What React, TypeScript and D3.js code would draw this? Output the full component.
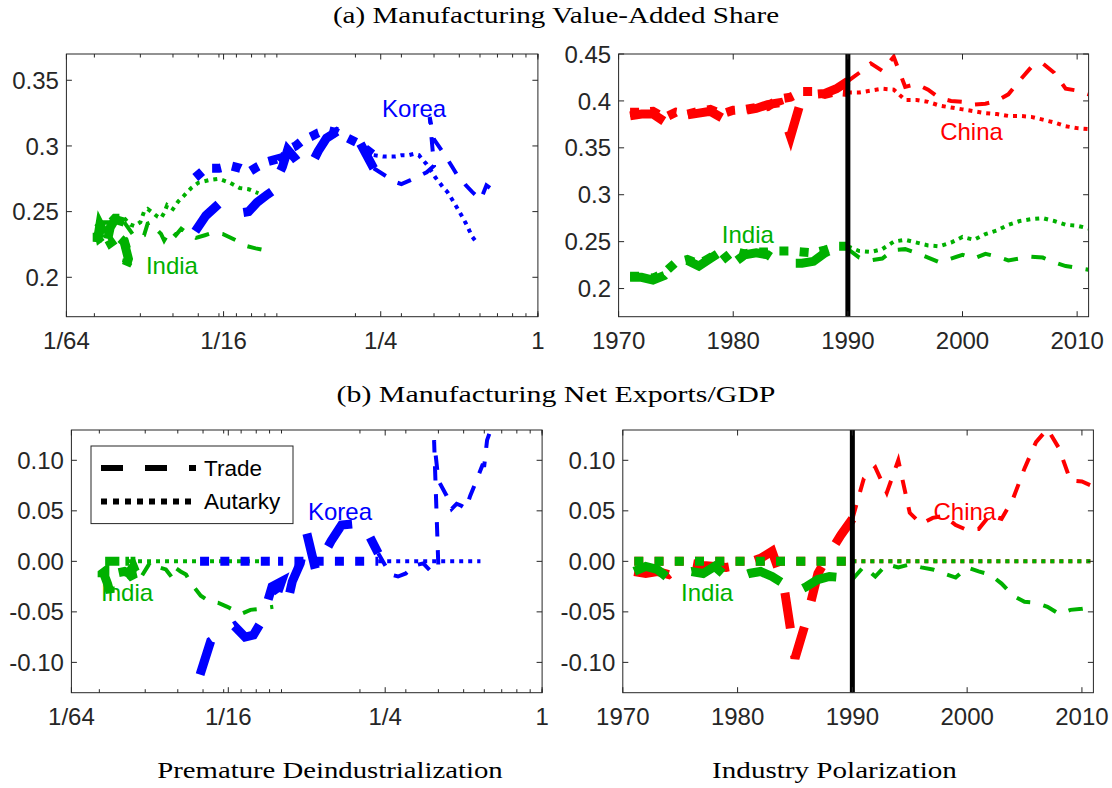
import React from "react";
import * as d3 from "d3";

// ---- data ----
const years = [
  1971, 1972, 1973, 1974, 1975, 1976, 1977, 1978, 1979, 1980,
  1981, 1982, 1983, 1984, 1985, 1986, 1987, 1988, 1989, 1990,
  1991, 1992, 1993, 1994, 1995, 1996, 1997, 1998, 1999, 2000,
  2001, 2002, 2003, 2004, 2005, 2006, 2007, 2008, 2009, 2010, 2011,
];
const cutYear = 1990;

// China
const chinaShareTrade = [
  0.384, 0.386, 0.386, 0.378, 0.387, 0.385, 0.387, 0.389, 0.382, 0.389,
  0.390, 0.392, 0.396, 0.398, 0.362, 0.404, 0.407, 0.408, 0.413, 0.421,
  0.430, 0.440, 0.432, 0.447, 0.415, 0.418, 0.412, 0.403, 0.400, 0.399,
  0.396, 0.397, 0.400, 0.407, 0.422, 0.436, 0.440, 0.430, 0.413, 0.411, 0.407,
];
const chinaShareAutarky = [
  0.388, 0.388, 0.389, 0.382, 0.388, 0.386, 0.389, 0.391, 0.386, 0.390,
  0.391, 0.393, 0.394, 0.402, 0.404, 0.410, 0.410, 0.407, 0.410, 0.409,
  0.409, 0.411, 0.413, 0.412, 0.401, 0.401, 0.399, 0.395, 0.393, 0.391,
  0.389, 0.387, 0.386, 0.384, 0.384, 0.383, 0.380, 0.377, 0.373, 0.371, 0.370,
];
const chinaNxTrade = [
  -0.010, -0.012, -0.010, -0.013, -0.004, -0.002, -0.004, -0.005, -0.006, -0.004,
  -0.001, 0.003, 0.010, -0.022, -0.096, -0.058, -0.012, 0.008, 0.026, 0.042,
  0.082, 0.093, 0.068, 0.100, 0.048, 0.037, 0.043, 0.045, 0.036, 0.031,
  0.032, 0.046, 0.042, 0.062, 0.092, 0.118, 0.131, 0.112, 0.080, 0.079, 0.074,
];

// India
const indiaShareTrade = [
  0.212, 0.212, 0.209, 0.214, 0.227, 0.230, 0.224, 0.232, 0.240, 0.227,
  0.236, 0.238, 0.236, 0.228, 0.227, 0.227, 0.229, 0.238, 0.244, 0.242,
  0.233, 0.230, 0.232, 0.241, 0.242, 0.238, 0.233, 0.228, 0.232, 0.236,
  0.232, 0.237, 0.234, 0.230, 0.232, 0.234, 0.233, 0.228, 0.224, 0.222, 0.220,
];
const indiaShareAutarky = [
  0.213, 0.213, 0.211, 0.217, 0.228, 0.231, 0.226, 0.233, 0.230, 0.240,
  0.237, 0.239, 0.239, 0.240, 0.240, 0.239, 0.238, 0.241, 0.245, 0.245,
  0.240, 0.239, 0.242, 0.250, 0.252, 0.249, 0.246, 0.245, 0.249, 0.255,
  0.252, 0.258, 0.262, 0.268, 0.272, 0.274, 0.275, 0.272, 0.268, 0.267, 0.264,
];
const indiaNxTrade = [
  -0.010, -0.005, -0.008, -0.017, -0.012, -0.010, -0.012, -0.005, -0.015, -0.016,
  -0.012, -0.010, -0.015, -0.022, -0.031, -0.025, -0.018, -0.015, -0.016, -0.018,
  -0.005, -0.015, -0.003, -0.006, -0.003, -0.006, -0.008, -0.012, -0.016, -0.006,
  -0.010, -0.013, -0.022, -0.034, -0.040, -0.041, -0.045, -0.052, -0.048, -0.047, -0.045,
];
const indiaIncomeTrade = [
  0.0275, 0.027, 0.0265, 0.027, 0.026, 0.025, 0.023, 0.022, 0.021, 0.0205,
  0.0205, 0.021, 0.021, 0.0215, 0.022, 0.022, 0.0225, 0.023, 0.024, 0.026,
  0.028, 0.029, 0.031, 0.032, 0.033, 0.034, 0.036, 0.037, 0.038, 0.039,
  0.041, 0.043, 0.045, 0.049, 0.053, 0.057, 0.062, 0.070, 0.076, 0.083, 0.093,
];
const indiaIncomeAutarky = [
  0.0275, 0.027, 0.0265, 0.027, 0.026, 0.025, 0.023, 0.022, 0.021, 0.0205,
  0.0205, 0.021, 0.021, 0.0215, 0.022, 0.022, 0.0225, 0.023, 0.024, 0.026,
  0.0275, 0.0285, 0.030, 0.031, 0.032, 0.0335, 0.035, 0.036, 0.037, 0.038,
  0.040, 0.042, 0.044, 0.047, 0.050, 0.055, 0.060, 0.066, 0.072, 0.078, 0.085,
];

// Korea
const koreaShareTrade = [
  0.235, 0.247, 0.256, 0.252, 0.249, 0.250, 0.257, 0.263, 0.268, 0.270,
  0.284, 0.297, 0.290, 0.283, 0.285, 0.296, 0.306, 0.311, 0.305, 0.283,
  0.277, 0.273, 0.271, 0.274, 0.277, 0.280, 0.285, 0.322, 0.305, 0.296,
  0.290, 0.284, 0.278, 0.275, 0.270, 0.265, 0.261, 0.259, 0.263, 0.270, 0.268,
];
const koreaShareAutarky = [
  0.276, 0.283, 0.283, 0.285, 0.283, 0.280, 0.284, 0.288, 0.290, 0.287,
  0.290, 0.297, 0.300, 0.304, 0.307, 0.310, 0.312, 0.310, 0.302, 0.293,
  0.292, 0.292, 0.292, 0.293, 0.293, 0.294, 0.293, 0.290, 0.286, 0.281,
  0.276, 0.272, 0.268, 0.265, 0.259, 0.253, 0.247, 0.241, 0.236, 0.231, 0.227,
];
const koreaNxTrade = [
  -0.112, -0.079, -0.070, -0.064, -0.075, -0.073, -0.059, -0.025, -0.020, -0.030,
  -0.043, -0.020, -0.002, 0.028, -0.008, 0.005, 0.020, 0.036, 0.038, 0.008,
  -0.013, -0.015, -0.012, -0.004, -0.002, -0.010, -0.006, 0.120, 0.080, 0.065,
  0.052, 0.057, 0.055, 0.052, 0.065, 0.080, 0.095, 0.095, 0.120, 0.130, 0.135,
];
const koreaIncomeTrade = [
  0.0487, 0.0535, 0.060, 0.066, 0.0725, 0.078, 0.084, 0.092, 0.100, 0.097,
  0.105, 0.110, 0.118, 0.125, 0.135, 0.144, 0.155, 0.170, 0.205, 0.235,
  0.262, 0.28, 0.30, 0.325, 0.35, 0.375, 0.40, 0.385, 0.40, 0.43,
  0.45, 0.47, 0.49, 0.51, 0.53, 0.56, 0.59, 0.60, 0.615, 0.635, 0.655,
];
const koreaIncomeAutarky = [
  0.0487, 0.0535, 0.060, 0.066, 0.0725, 0.078, 0.084, 0.092, 0.100, 0.097,
  0.105, 0.110, 0.118, 0.125, 0.135, 0.144, 0.155, 0.170, 0.205, 0.235,
  0.255, 0.27, 0.285, 0.30, 0.32, 0.335, 0.35, 0.36, 0.375, 0.39,
  0.405, 0.42, 0.435, 0.45, 0.47, 0.49, 0.51, 0.53, 0.545, 0.56, 0.58,
];

// autarky has no net exports
const autarkyNx = [
  0, 0, 0, 0, 0, 0, 0, 0, 0, 0, 0, 0, 0, 0, 0, 0, 0, 0, 0, 0, 0,
  0, 0, 0, 0, 0, 0, 0, 0, 0, 0, 0, 0, 0, 0, 0, 0, 0, 0, 0, 0,
];

// tick labels
const logTicks = [1 / 64, 1 / 16, 1 / 4, 1];
const logTickLabels = ["1/64", "1/16", "1/4", "1"];
const yearTicks = [1970, 1980, 1990, 2000, 2010];
const shareTicksLeft = [0.2, 0.25, 0.3, 0.35];
const shareTicksRight = [0.2, 0.25, 0.3, 0.35, 0.4, 0.45];
const shareTickLabels = (v: number) => String(+v.toFixed(2));
const nxTicks = [-0.1, -0.05, 0, 0.05, 0.1];
const nxTickLabels = ["-0.10", "-0.05", "0.00", "0.05", "0.10"];

const colors: Record<string, string> = {
  China: "#ff0000",
  India: "#00b000",
  Korea: "#0000ff",
};

// ---- layout ----
const W = 1112;
const H = 788;
const AX = "#262626";
const SANS = "'Liberation Sans', Arial, Helvetica, sans-serif";
const SERIF = "'Liberation Serif', 'Times New Roman', serif";

type Panel = {
  id: string;
  left: number;
  right: number;
  top: number;
  bottom: number;
  log: boolean;
  yDomain: [number, number];
  yTicks: number[];
  yLabel: (v: number, i: number) => string;
};

const panels: Panel[] = [
  { id: "aL", left: 66.4, right: 537.9, top: 54, bottom: 316.7, log: true, yDomain: [0.17, 0.37], yTicks: shareTicksLeft, yLabel: (v) => shareTickLabels(v) },
  { id: "aR", left: 618.6, right: 1088.6, top: 54, bottom: 316.7, log: false, yDomain: [0.17, 0.45], yTicks: shareTicksRight, yLabel: (v) => shareTickLabels(v) },
  { id: "bL", left: 71.4, right: 542.1, top: 430, bottom: 692.7, log: true, yDomain: [-0.13, 0.13], yTicks: nxTicks, yLabel: (_, i) => nxTickLabels[i] },
  { id: "bR", left: 622.8, right: 1093.4, top: 430, bottom: 692.7, log: false, yDomain: [-0.13, 0.13], yTicks: nxTicks, yLabel: (_, i) => nxTickLabels[i] },
];

type Series = { panel: string; country: string; style: "dash" | "dot"; x: number[]; y: number[] };

const series: Series[] = [
  { panel: "aL", country: "India", style: "dash", x: indiaIncomeTrade, y: indiaShareTrade },
  { panel: "aL", country: "India", style: "dot", x: indiaIncomeAutarky, y: indiaShareAutarky },
  { panel: "aL", country: "Korea", style: "dash", x: koreaIncomeTrade, y: koreaShareTrade },
  { panel: "aL", country: "Korea", style: "dot", x: koreaIncomeAutarky, y: koreaShareAutarky },
  { panel: "aR", country: "China", style: "dash", x: years, y: chinaShareTrade },
  { panel: "aR", country: "China", style: "dot", x: years, y: chinaShareAutarky },
  { panel: "aR", country: "India", style: "dash", x: years, y: indiaShareTrade },
  { panel: "aR", country: "India", style: "dot", x: years, y: indiaShareAutarky },
  { panel: "bL", country: "India", style: "dash", x: indiaIncomeTrade, y: indiaNxTrade },
  { panel: "bL", country: "India", style: "dot", x: indiaIncomeAutarky, y: autarkyNx },
  { panel: "bL", country: "Korea", style: "dash", x: koreaIncomeTrade, y: koreaNxTrade },
  { panel: "bL", country: "Korea", style: "dot", x: koreaIncomeAutarky, y: autarkyNx },
  { panel: "bR", country: "China", style: "dash", x: years, y: chinaNxTrade },
  { panel: "bR", country: "China", style: "dot", x: years, y: autarkyNx },
  { panel: "bR", country: "India", style: "dash", x: years, y: indiaNxTrade },
  { panel: "bR", country: "India", style: "dot", x: years, y: autarkyNx },
];

// country labels, in data coordinates of their panel (text baseline)
const labels = [
  { panel: "aL", text: "Korea", x: 0.253, y: 0.322 },
  { panel: "aL", text: "India", x: 0.0315, y: 0.2028 },
  { panel: "aR", text: "China", x: 1998.05, y: 0.3587 },
  { panel: "aR", text: "India", x: 1979.0, y: 0.249 },
  { panel: "bL", text: "India", x: 0.0203, y: -0.0393 },
  { panel: "bL", text: "Korea", x: 0.1264, y: 0.0413 },
  { panel: "bR", text: "China", x: 1997.07, y: 0.0413 },
  { panel: "bR", text: "India", x: 1975.08, y: -0.0393 },
];

const THICK = 9;
const THIN = 4;
const dashFor = (style: string, w: number) =>
  style === "dot"
    ? `${w},${w * 1.25}`
    : w > 5
    ? `${w * 4},${w * 3}`
    : `${w * 3.6},${w * 3.4}`;

function makeScales(p: Panel) {
  const x = p.log
    ? d3.scaleLog().base(2).domain([1 / 64, 1]).range([p.left, p.right])
    : d3.scaleLinear().domain([1970, 2011]).range([p.left, p.right]);
  const y = d3.scaleLinear().domain(p.yDomain).range([p.bottom, p.top]);
  return { x, y };
}

const preIdx = years.map((_, i) => i).filter((i) => years[i] <= cutYear);
const postIdx = years.map((_, i) => i).filter((i) => years[i] >= cutYear);

function PanelView({ p }: { p: Panel }) {
  const { x, y } = makeScales(p);
  const majorLen = 5.5;
  const minorLen = 3.5;
  const minor = p.log ? d3.scaleLog().domain([1 / 64, 1]).ticks() : [];
  const xTicks = p.log ? logTicks : yearTicks;
  const xLabels = p.log ? logTickLabels : yearTicks.map(String);
  const mine = series.filter((s) => s.panel === p.id);

  return (
    <g>
      <defs>
        <clipPath id={`clip-${p.id}`}>
          <rect x={p.left} y={p.top} width={p.right - p.left} height={p.bottom - p.top} />
        </clipPath>
      </defs>

      <g clipPath={`url(#clip-${p.id})`}>
        {mine.map((s, si) =>
          [
            { idx: preIdx, w: THICK },
            { idx: postIdx, w: THIN },
          ].map((seg, k) => {
            const line = d3
              .line<number>()
              .x((i) => x(s.x[i]))
              .y((i) => y(s.y[i]));
            return (
              <path
                key={`${si}-${k}`}
                d={line(seg.idx) || ""}
                fill="none"
                stroke={colors[s.country]}
                strokeWidth={seg.w}
                strokeDasharray={dashFor(s.style, seg.w)}
                strokeLinecap="butt"
                strokeLinejoin="miter"
                strokeMiterlimit={4}
              />
            );
          })
        )}
        {!p.log && (
          <line x1={x(cutYear)} x2={x(cutYear)} y1={p.top} y2={p.bottom} stroke="#000" strokeWidth={5} />
        )}
      </g>

      {labels
        .filter((l) => l.panel === p.id)
        .map((l, i) => (
          <text key={i} x={x(l.x)} y={y(l.y)} fill={colors[l.text]} fontFamily={SANS} fontSize={24}>
            {l.text}
          </text>
        ))}

      {/* frame */}
      <rect x={p.left} y={p.top} width={p.right - p.left} height={p.bottom - p.top} fill="none" stroke={AX} strokeWidth={1} />

      {/* minor x ticks (log panels) */}
      {minor.map((v, i) => (
        <g key={`m${i}`}>
          <line x1={x(v)} x2={x(v)} y1={p.bottom} y2={p.bottom - minorLen} stroke={AX} />
          <line x1={x(v)} x2={x(v)} y1={p.top} y2={p.top + minorLen} stroke={AX} />
        </g>
      ))}

      {/* x ticks */}
      {xTicks.map((v, i) => (
        <g key={`x${i}`}>
          <line x1={x(v)} x2={x(v)} y1={p.bottom} y2={p.bottom - majorLen} stroke={AX} />
          <line x1={x(v)} x2={x(v)} y1={p.top} y2={p.top + majorLen} stroke={AX} />
          <text x={x(v)} y={p.bottom + 31.8} textAnchor="middle" fill={AX} fontFamily={SANS} fontSize={24}>
            {xLabels[i]}
          </text>
        </g>
      ))}

      {/* y ticks */}
      {p.yTicks.map((v, i) => (
        <g key={`y${i}`}>
          <line x1={p.left} x2={p.left + majorLen} y1={y(v)} y2={y(v)} stroke={AX} />
          <line x1={p.right} x2={p.right - majorLen} y1={y(v)} y2={y(v)} stroke={AX} />
          <text x={p.left - 7.5} y={y(v) + 8.6} textAnchor="end" fill={AX} fontFamily={SANS} fontSize={24}>
            {p.yLabel(v, i)}
          </text>
        </g>
      ))}
    </g>
  );
}

function Legend() {
  const x0 = 91;
  const y0 = 446;
  return (
    <g>
      <rect x={x0} y={y0} width={202} height={77.6} fill="#fff" stroke={AX} strokeWidth={1} />
      <line x1={101} x2={196} y1={468} y2={468} stroke="#000" strokeWidth={6} strokeDasharray="22,22" />
      <line x1={101} x2={196} y1={501.4} y2={501.4} stroke="#000" strokeWidth={6} strokeDasharray="6,6" />
      <text x={204} y={476} fontFamily={SANS} fontSize={22.5} fill="#000">Trade</text>
      <text x={204} y={509.4} fontFamily={SANS} fontSize={22.5} fill="#000">Autarky</text>
    </g>
  );
}

// serif captions, stretched horizontally (the original uses a wide Computer Modern face)
function Caption({ x, y, text, sx }: { x: number; y: number; text: string; sx: number }) {
  return (
    <text
      transform={`translate(${x},${y}) scale(${sx},1)`}
      textAnchor="middle"
      fontFamily={SERIF}
      fontSize={23}
      fill="#000"
    >
      {text}
    </text>
  );
}

export default function App() {
  return (
    <svg
      width={W}
      height={H}
      viewBox={`0 0 ${W} ${H}`}
      style={{ position: "absolute", left: 0, top: 0, background: "#fff" }}
    >
      <rect width={W} height={H} fill="#fff" />
      <Caption x={556} y={23} sx={1.265} text="(a) Manufacturing Value-Added Share" />
      <Caption x={556} y={402} sx={1.3} text="(b) Manufacturing Net Exports/GDP" />
      <Caption x={330} y={778} sx={1.25} text="Premature Deindustrialization" />
      <Caption x={834.5} y={778} sx={1.265} text="Industry Polarization" />
      {panels.map((p) => (
        <PanelView key={p.id} p={p} />
      ))}
      <Legend />
    </svg>
  );
}
